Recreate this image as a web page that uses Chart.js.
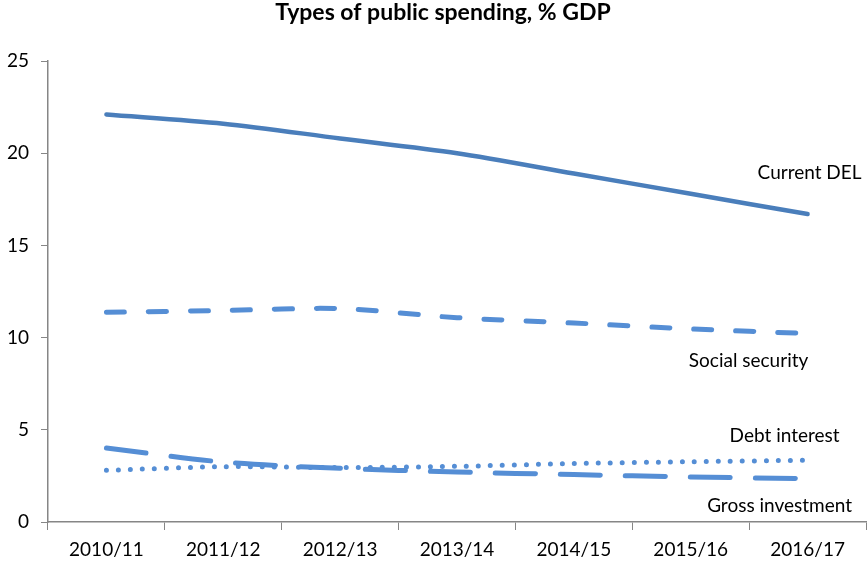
<!DOCTYPE html>
<html>
<head>
<meta charset="utf-8">
<script src="https://cdn.jsdelivr.net/npm/chart.js@4/dist/chart.umd.min.js"></script>
<style>
  html, body { margin: 0; padding: 0; background: #fff; }
  #wrap { width: 867px; height: 562px; }
</style>
</head>
<body>
<div id="wrap"><canvas id="spendChart" width="867" height="562"></canvas></div>
<script>
// financial years on the x axis
const years = ["2010/11", "2011/12", "2012/13", "2013/14", "2014/15", "2015/16", "2016/17"];

// % of GDP for each spending type
const currentDel = [22.1, 21.6, 20.8, 20.0, 18.9, 17.8, 16.7];
const socialSecurity = [11.37, 11.47, 11.57, 11.08, 10.79, 10.47, 10.22];
const debtInterest = [2.8, 3.0, 2.95, 3.02, 3.17, 3.27, 3.35];
const grossInvestment = [4.01, 3.25, 2.91, 2.71, 2.57, 2.44, 2.35];

const yTicks = [0, 5, 10, 15, 20, 25];

const chartTitle = "Types of public spending, % GDP";

const axisGrey = "#868686";
const fontFamily = "Lato, 'Open Sans', sans-serif";

// title sits a little right of the canvas centre, over the plot
const titleText = {
  id: "titleText",
  afterDraw(chart) {
    const ctx = chart.ctx;
    ctx.save();
    ctx.font = "bold 23px " + fontFamily;
    ctx.fillStyle = "#000";
    ctx.textAlign = "center";
    ctx.textBaseline = "middle";
    ctx.fillText(chartTitle, 443, 13);
    ctx.restore();
  }
};

// series name written next to the end of each line
const endLabels = {
  id: "endLabels",
  afterDatasetsDraw(chart) {
    const ctx = chart.ctx;
    const xs = chart.scales.x;
    const ys = chart.scales.y;
    const last = years.length - 1;
    ctx.save();
    ctx.font = "19px " + fontFamily;
    ctx.fillStyle = "#000";
    ctx.textAlign = "center";
    ctx.textBaseline = "middle";
    chart.data.datasets.forEach(function (ds) {
      const px = xs.getPixelForValue(last);
      const py = ys.getPixelForValue(ds.data[last]);
      ctx.fillText(ds.label, px + ds.labelDx, py + ds.labelDy);
    });
    ctx.restore();
  }
};

const ctx = document.getElementById("spendChart");
new Chart(ctx, {
  type: "line",
  data: {
    labels: years,
    datasets: [
      {
        label: "Current DEL",
        data: currentDel,
        borderColor: "#4a7ebb",
        borderWidth: 4.5,
        labelDx: 2,
        labelDy: -41
      },
      {
        label: "Social security",
        data: socialSecurity,
        borderColor: "#558ed5",
        borderWidth: 5,
        borderDash: [18, 24],
        labelDx: -59,
        labelDy: 27
      },
      {
        label: "Debt interest",
        data: debtInterest,
        borderColor: "#558ed5",
        borderWidth: 5,
        borderDash: [0, 12],
        labelDx: -23,
        labelDy: -24
      },
      {
        label: "Gross investment",
        data: grossInvestment,
        borderColor: "#558ed5",
        borderWidth: 5,
        borderDash: [40, 25],
        labelDx: -28,
        labelDy: 27
      }
    ]
  },
  options: {
    responsive: false,
    animation: false,
    layout: { padding: { left: 0, right: 1, top: 61, bottom: 0 } },
    elements: {
      point: { radius: 0 },
      line: { tension: 0.3, borderCapStyle: "round", borderJoinStyle: "round", fill: false }
    },
    plugins: {
      legend: { display: false },
      tooltip: { enabled: false },
      title: { display: false }
    },
    scales: {
      x: {
        offset: true,
        grid: {
          offset: true,
          drawOnChartArea: false,
          drawTicks: true,
          tickLength: 8,
          color: axisGrey
        },
        border: { display: true, color: axisGrey, width: 1.5 },
        ticks: {
          color: "#000",
          font: { family: fontFamily, size: 19 },
          maxRotation: 0,
          padding: 8
        },
        afterFit(scale) { scale.height = 40; }
      },
      y: {
        min: 0,
        max: 25,
        afterBuildTicks(scale) {
          scale.ticks = yTicks.map(function (v) { return { value: v }; });
        },
        grid: {
          drawOnChartArea: false,
          drawTicks: true,
          tickLength: 7,
          color: axisGrey
        },
        border: { display: true, color: axisGrey, width: 1.5 },
        ticks: {
          color: "#000",
          font: { family: fontFamily, size: 19 },
          padding: 12
        },
        afterFit(scale) { scale.width = 48; }
      }
    }
  },
  plugins: [endLabels, titleText]
});
</script>
</body>
</html>
